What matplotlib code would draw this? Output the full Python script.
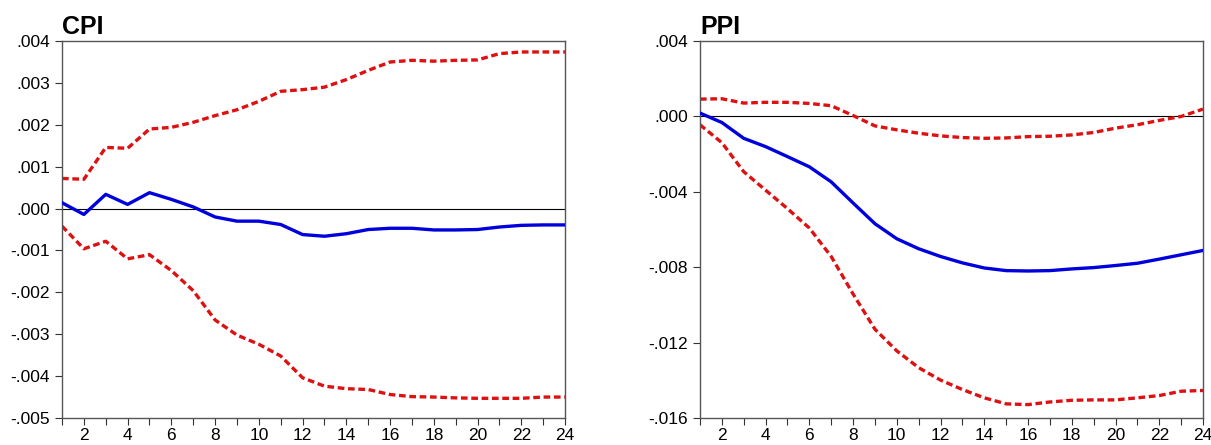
import matplotlib
matplotlib.use("Agg")
import matplotlib.pyplot as plt
from matplotlib.ticker import FixedLocator, FuncFormatter

periods = list(range(1, 25))

cpi_resp = [0.00014, -0.00014, 0.00034, 0.00010, 0.00038, 0.00022, 0.00004, -0.00020,
            -0.00030, -0.00030, -0.00038, -0.00062, -0.00066, -0.00060, -0.00050, -0.00047,
            -0.00047, -0.00051, -0.00051, -0.00050, -0.00044, -0.00040, -0.00039, -0.00039]
cpi_upper = [0.00072, 0.00070, 0.00146, 0.00144, 0.00190, 0.00194, 0.00206, 0.00222,
             0.00236, 0.00256, 0.00280, 0.00284, 0.00290, 0.00308, 0.00330, 0.00350,
             0.00354, 0.00352, 0.00354, 0.00355, 0.00370, 0.00374, 0.00374, 0.00374]
cpi_lower = [-0.00042, -0.00096, -0.00078, -0.00120, -0.00110, -0.00148, -0.00196, -0.00266,
             -0.00302, -0.00324, -0.00352, -0.00404, -0.00424, -0.00430, -0.00432, -0.00444,
             -0.00449, -0.00450, -0.00452, -0.00453, -0.00453, -0.00453, -0.00450, -0.00450]

ppi_resp = [0.00018, -0.00032, -0.00116, -0.00160, -0.00213, -0.00267, -0.00347, -0.00459,
            -0.00569, -0.00649, -0.00702, -0.00743, -0.00777, -0.00804, -0.00818, -0.00820,
            -0.00818, -0.00809, -0.00802, -0.00791, -0.00779, -0.00757, -0.00734, -0.00711]
ppi_upper = [0.00092, 0.00094, 0.00071, 0.00075, 0.00075, 0.00069, 0.00057, 0.00005,
             -0.00050, -0.00071, -0.00089, -0.00103, -0.00112, -0.00116, -0.00114, -0.00107,
             -0.00105, -0.00098, -0.00085, -0.00062, -0.00044, -0.00021, 0.00000, 0.00039]
ppi_lower = [-0.00044, -0.00139, -0.00293, -0.00391, -0.00489, -0.00592, -0.00743, -0.00942,
             -0.01129, -0.01244, -0.01333, -0.01399, -0.01449, -0.01493, -0.01525, -0.01529,
             -0.01515, -0.01506, -0.01504, -0.01504, -0.01493, -0.01481, -0.01458, -0.01454]

cpi_ticks = [0.004, 0.003, 0.002, 0.001, 0.0, -0.001, -0.002, -0.003, -0.004, -0.005]
ppi_ticks = [0.004, 0.0, -0.004, -0.008, -0.012, -0.016]
x_labels = list(range(2, 25, 2))

plt.rcParams['font.family'] = ['Liberation Sans', 'DejaVu Sans']


def fmt_tick(v, pos):
    s = f"{v:.3f}"
    if s.startswith("-0"):
        return "-" + s[2:]
    if s.startswith("0"):
        return s[1:]
    return s


def draw_panel(ax, title, resp, upper, lower, yticks):
    ax.axhline(0, color='black', lw=0.8, zorder=1)
    ax.plot(periods, upper, color='#dd1111', lw=2.4, ls=(0, (2, 1.1)), zorder=2)
    ax.plot(periods, lower, color='#dd1111', lw=2.4, ls=(0, (2, 1.1)), zorder=2)
    ax.plot(periods, resp, color='#0000dd', lw=2.4, zorder=3)
    ax.set_xlim(1, 24)
    ax.set_ylim(min(yticks), max(yticks))
    ax.set_yticks(yticks)
    ax.yaxis.set_major_formatter(FuncFormatter(fmt_tick))
    ax.xaxis.set_major_locator(FixedLocator(x_labels))
    ax.xaxis.set_minor_locator(FixedLocator(periods))
    ax.tick_params(axis='both', which='both', direction='out', length=5, width=0.8,
                   color='#333333', labelsize=12.5)
    ax.tick_params(axis='x', which='major', pad=2)
    for sp in ax.spines.values():
        sp.set_color('#555555')
        sp.set_linewidth(1.0)
    ax.set_title(title, loc='left', fontsize=18, fontweight='bold', pad=5, x=0.0)


fig = plt.figure(figsize=(12.11, 4.45), dpi=100)
ax1 = fig.add_axes([0.0512, 0.0607, 0.4154, 0.847])
ax2 = fig.add_axes([0.578, 0.0607, 0.4154, 0.847])

draw_panel(ax1, "CPI", cpi_resp, cpi_upper, cpi_lower, cpi_ticks)
draw_panel(ax2, "PPI", ppi_resp, ppi_upper, ppi_lower, ppi_ticks)

fig.savefig("out.png", dpi=100)
